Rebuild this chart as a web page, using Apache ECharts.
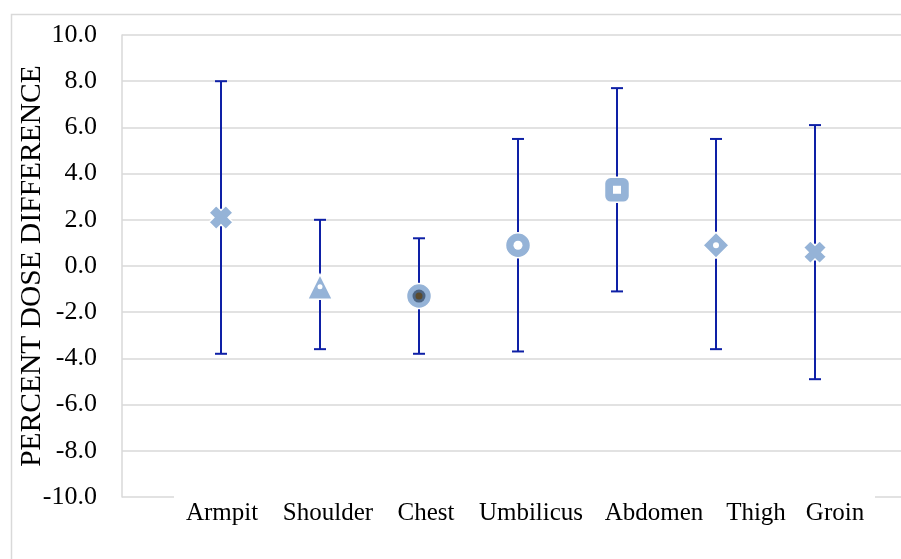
<!DOCTYPE html>
<html>
<head>
<meta charset="utf-8">
<script src="https://cdn.jsdelivr.net/npm/echarts@6/dist/echarts.min.js"></script>
<style>
html, body { margin: 0; padding: 0; background: #fff; }
#chart { width: 901px; height: 559px; }
</style>
</head>
<body>
<div id="chart"></div>
<script>
// data
var categories = ['Armpit', 'Shoulder', 'Chest', 'Umbilicus', 'Abdomen', 'Thigh', 'Groin'];
var meanValues = [2.1, -0.9, -1.3, 0.9, 3.3, 0.9, 0.6];
var upperValues = [8.0, 2.0, 1.2, 5.5, 7.7, 5.5, 6.1];
var lowerValues = [-3.8, -3.6, -3.8, -3.7, -1.1, -3.6, -4.9];
var yMin = -10, yMax = 10, yStep = 2;
var yTitle = 'PERCENT DOSE DIFFERENCE';

// look
var crossPath = 'path://M3,0 L5,2 L7,0 L10,3 L8,5 L10,7 L7,10 L5,8 L3,10 L0,7 L2,5 L0,3 Z';
var markerShapes = [crossPath, 'triangle', 'circle', 'circle', 'roundRect', 'diamond', crossPath];
var markerSizes = [24, 25, 25, 25, 25, 26, 23];
var innerShapes = [null, 'circle', 'circle', 'circle', 'rect', 'circle', null];
var innerSizes = [0, 5, 13, 9, 8, 6, 0];
var innerColors = [null, '#fff', '#4d6583', '#fff', '#fff', '#fff', null];
var labelShift = [1, 8, 7, 13, 37, 40, 20];
var markerColor = '#95b3d7';
var barColor = '#0e20a6';
var serif = '"Liberation Serif", "DejaVu Serif", serif';

var ec = echarts.init(document.getElementById('chart'));

var errData = [], meanData = [], innerData = [], dotData = [];
for (var i = 0; i < categories.length; i++) {
	errData.push([i + 1, lowerValues[i], upperValues[i]]);
	meanData.push({
		value: [i + 1, meanValues[i]],
		symbol: markerShapes[i],
		symbolSize: markerSizes[i]
	});
	if (innerShapes[i]) {
		innerData.push({
			value: [i + 1, meanValues[i]],
			symbol: innerShapes[i],
			symbolSize: innerSizes[i],
			itemStyle: { color: innerColors[i] }
		});
	}
	if (i === 2) dotData.push([i + 1, meanValues[i]]);
}

var rich = {};
for (var k = 0; k < categories.length; k++) {
	rich['c' + k] = {
		fontFamily: serif,
		fontSize: 25,
		color: '#000',
		padding: [0, 0, 0, labelShift[k] * 2]
	};
}

ec.setOption({
	animation: false,
	graphic: [{
		type: 'rect',
		shape: { x: 11.5, y: 14.5, width: 1000, height: 1000 },
		style: { fill: 'none', stroke: '#d9d9d9', lineWidth: 1.5 },
		z: 0
	}, {
		type: 'rect',
		shape: { x: 174, y: 494, width: 701, height: 6 },
		style: { fill: '#fff' },
		z: 1
	}],
	grid: {
		left: 122,
		right: -13,
		top: 35,
		bottom: 62,
		outerBoundsMode: 'none',
		containLabel: false
	},
	xAxis: {
		type: 'value',
		min: 0,
		max: categories.length + 1,
		interval: 1,
		axisLine: { show: false },
		axisTick: { show: false },
		splitLine: { show: false },
		axisLabel: {
			margin: 4,
			formatter: function(v) {
				var idx = Math.round(v) - 1;
				if (idx < 0 || idx >= categories.length) return '';
				return '{c' + idx + '|' + categories[idx] + '}';
			},
			rich: rich
		}
	},
	yAxis: {
		type: 'value',
		min: yMin,
		max: yMax,
		interval: yStep,
		name: yTitle,
		nameLocation: 'middle',
		nameRotate: 90,
		nameGap: 75,
		nameMoveOverlap: false,
		nameTextStyle: {
			fontFamily: serif,
			fontSize: 29.5,
			color: '#000'
		},
		axisLine: {
			show: true,
			lineStyle: { color: '#d9d9d9', width: 1.5 }
		},
		axisTick: { show: false },
		splitLine: {
			show: true,
			lineStyle: { color: '#d9d9d9', width: 1.5 }
		},
		axisLabel: {
			margin: 25,
			fontFamily: serif,
			fontSize: 26,
			color: '#000',
			formatter: function(v) {
				return v.toFixed(1);
			}
		}
	},
	series: [{
		type: 'custom',
		data: errData,
		z: 2,
		renderItem: function(params, api) {
			var x = api.value(0);
			var lo = api.coord([x, api.value(1)]);
			var hi = api.coord([x, api.value(2)]);
			var half = 6;
			var st = { stroke: barColor, lineWidth: 2 };
			return {
				type: 'group',
				children: [{
					type: 'line',
					shape: { x1: hi[0], y1: hi[1], x2: lo[0], y2: lo[1] },
					style: st
				}, {
					type: 'line',
					shape: { x1: hi[0] - half, y1: hi[1], x2: hi[0] + half, y2: hi[1] },
					style: st
				}, {
					type: 'line',
					shape: { x1: lo[0] - half, y1: lo[1], x2: lo[0] + half, y2: lo[1] },
					style: st
				}]
			};
		}
	}, {
		type: 'scatter',
		data: meanData,
		z: 3,
		itemStyle: {
			color: markerColor,
			borderColor: '#fff',
			borderWidth: 1.5,
			opacity: 1
		}
	}, {
		type: 'scatter',
		data: innerData,
		z: 4,
		itemStyle: { opacity: 1 }
	}, {
		type: 'scatter',
		data: dotData,
		z: 5,
		symbol: 'circle',
		symbolSize: 7,
		itemStyle: { color: '#5b4b2e', opacity: 1 }
	}]
});
</script>
</body>
</html>
